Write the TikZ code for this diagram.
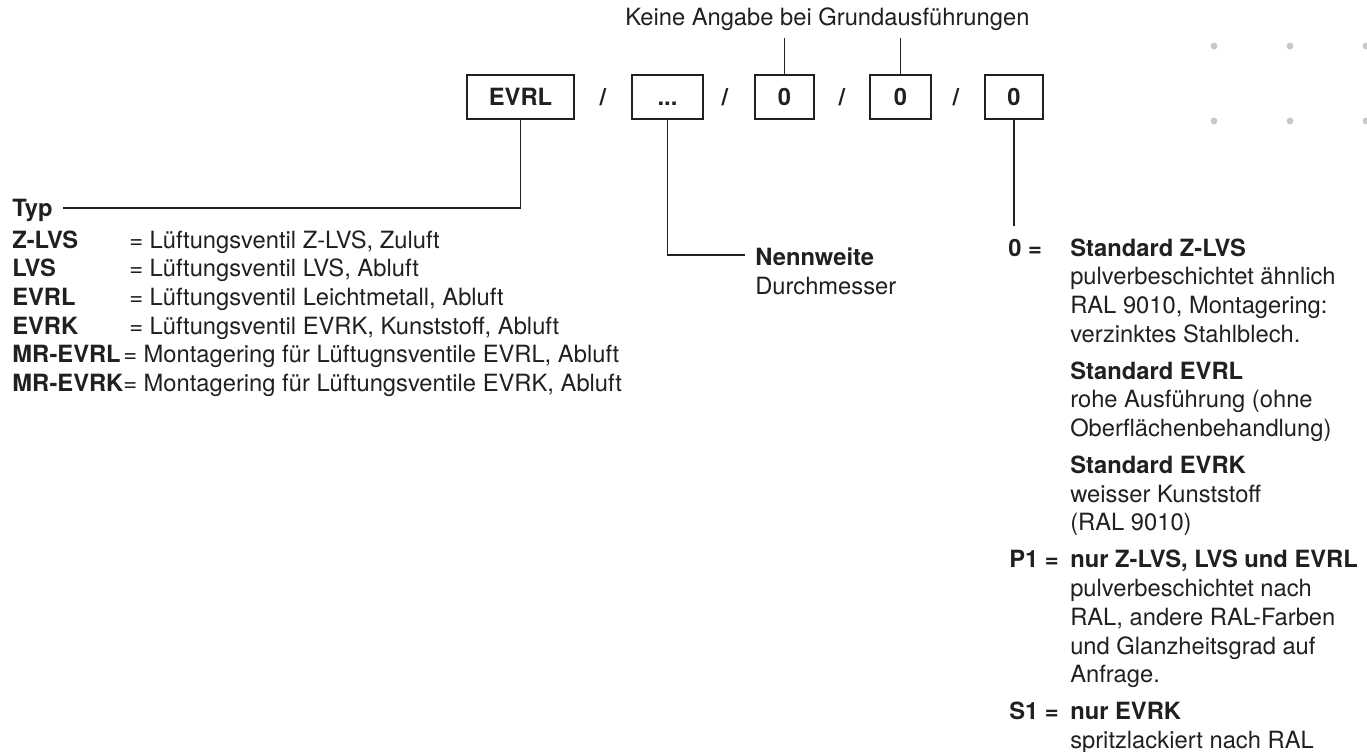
\documentclass[tikz,border=0pt]{standalone}
\usepackage{fontspec}
\setmainfont{TeX Gyre Heros}
\usetikzlibrary{positioning}
\definecolor{ink}{HTML}{231F20}
\definecolor{dotgray}{HTML}{C8C8C8}
\tikzset{
	txt/.style={anchor=base west, inner sep=0pt, text=ink, font=\fontsize{17.8}{21.5}\selectfont},
	txtb/.style={txt, font=\fontsize{17.8}{21.5}\selectfont\bfseries},
	codebox/.style={draw=ink, line width=0.9pt, minimum height=33pt, inner sep=0pt, text height=12.8pt, text depth=0pt, text=ink, font=\fontsize{17.8}{21.5}\selectfont\bfseries},
	slash/.style={inner sep=0pt, text=ink, font=\fontsize{17.8}{21.5}\selectfont\bfseries},
	lead/.style={draw=ink, line width=0.8pt},
}

\begin{document}
\begin{tikzpicture}[x=0.75pt, y=-0.75pt]
			%%%%% START %%%%%
			\useasboundingbox (0,0) rectangle (1367,751);
			
			% code boxes
			\node[codebox, minimum width=80.25pt] (evrl) at (520.5,97) {EVRL};
			\node[slash] (sl1) at (603,97) {/};
			\node[codebox, minimum width=53.25pt] (dots) at (667.5,97) {...};
			\node[slash] (sl2) at (725,97) {/};
			\node[codebox, minimum width=44.25pt] (null1) at (784.5,97) {0};
			\node[slash] (sl3) at (842,97) {/};
			\node[codebox, minimum width=45.75pt] (null2) at (900.5,97) {0};
			\node[slash] (sl4) at (956,97) {/};
			\node[codebox, minimum width=43.5pt] (null3) at (1014,97) {0};
			
			% top note
			\node[txt] (keine) at (625,25) {Keine Angabe bei Grundausführungen};
			\coordinate (keine1) at (784.5,38);
			\coordinate (keine2) at (900.5,38);
			\draw[lead] (null1.north) -- (keine1);
			\draw[lead] (null2.north) -- (keine2);
			
			% Typ
			\node[txtb] (typ) at (12,216) {Typ};
			\coordinate (typend) at (63,208);
			\draw[lead] (evrl.south) |- (typend);
			\node[txtb] (kzlvs) at (12,248) {Z-LVS};
			\node[txt] (dzlvs) at (129,248) {= Lüftungsventil Z-LVS, Zuluft};
			\node[txtb] (klvs) at (12,276.7) {LVS};
			\node[txt] (dlvs) at (129,276.7) {= Lüftungsventil LVS, Abluft};
			\node[txtb] (kevrl) at (12,305.4) {EVRL};
			\node[txt] (devrl) at (129,305.4) {= Lüftungsventil Leichtmetall, Abluft};
			\node[txtb] (kevrk) at (12,334.1) {EVRK};
			\node[txt] (devrk) at (129,334.1) {= Lüftungsventil EVRK, Kunststoff, Abluft};
			\node[txtb] (kmrl) at (12,362.8) {MR-EVRL};
			\node[txt] (dmrl) at (123,362.8) {= Montagering für Lüftugnsventile EVRL, Abluft};
			\node[txtb] (kmrk) at (12,391.5) {MR-EVRK};
			\node[txt] (dmrk) at (123,391.5) {= Montagering für Lüftungsventile EVRK, Abluft};
			
			% Nennweite
			\coordinate (nennend) at (745,255);
			\draw[lead] (dots.south) |- (nennend);
			\node[txtb] (nenn) at (755,265) {Nennweite};
			\node[txt] (durch) at (755,294) {Durchmesser};
			
			% Oberflaeche
			\coordinate (optend) at (1014,226);
			\draw[lead] (null3.south) -- (optend);
			\node[txtb] (o0) at (1008,256) {0 =};
			\node[txtb] (o0a) at (1070,256) {Standard Z-LVS};
			\node[txt] (o0b) at (1070,284.7) {pulverbeschichtet ähnlich};
			\node[txt] (o0c) at (1070,313.4) {RAL 9010, Montagering:};
			\node[txt] (o0d) at (1070,342.1) {verzinktes Stahlblech.};
			\node[txtb] (o0e) at (1070,379.1) {Standard EVRL};
			\node[txt] (o0f) at (1070,407.8) {rohe Ausführung (ohne};
			\node[txt] (o0g) at (1070,436.5) {Oberflächenbehandlung)};
			\node[txtb] (o0h) at (1070,473.5) {Standard EVRK};
			\node[txt] (o0i) at (1070,502.2) {weisser Kunststoff};
			\node[txt] (o0j) at (1070,530.9) {(RAL 9010)};
			\node[txtb] (op1) at (1009,567.9) {P1 =};
			\node[txtb] (op1a) at (1070,567.9) {nur Z-LVS, LVS und EVRL};
			\node[txt] (op1b) at (1070,596.6) {pulverbeschichtet nach};
			\node[txt] (op1c) at (1070,625.3) {RAL, andere RAL-Farben};
			\node[txt] (op1d) at (1070,654) {und Glanzheitsgrad auf};
			\node[txt] (op1e) at (1070,682.7) {Anfrage.};
			\node[txtb] (os1) at (1009,719.7) {S1 =};
			\node[txtb] (os1a) at (1070,719.7) {nur EVRK};
			\node[txt] (os1b) at (1070,748.4) {spritzlackiert nach RAL};
			
			% dot grid
			\fill[dotgray] (1214,46) circle[radius=2.6pt];
			\fill[dotgray] (1290,46) circle[radius=2.6pt];
			\fill[dotgray] (1366,46) circle[radius=2.6pt];
			\fill[dotgray] (1214,121) circle[radius=2.6pt];
			\fill[dotgray] (1290,121) circle[radius=2.6pt];
			\fill[dotgray] (1366,121) circle[radius=2.6pt];
			%%%%% END %%%%%
\end{tikzpicture}
\end{document}
